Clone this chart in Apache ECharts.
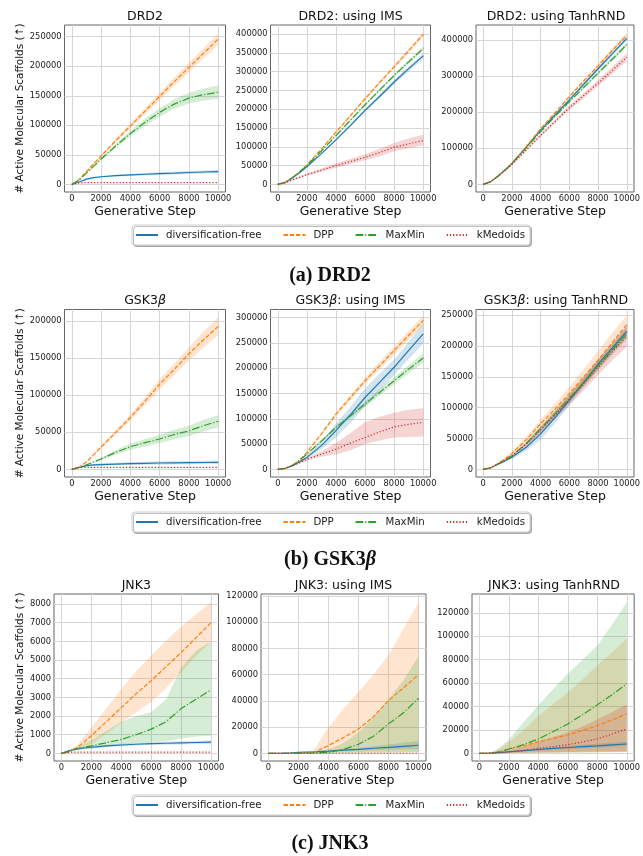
<!DOCTYPE html>
<html><head><meta charset="utf-8">
<script src="https://cdn.jsdelivr.net/npm/echarts@6/dist/echarts.min.js"></script>
<style>html,body{margin:0;padding:0;background:#fff}#c{width:643px;height:856px}</style>
</head><body><div id="c"></div>
<script>
// ---------- data ----------
const steps = [0,500,1000,1500,2000,3000,4000,5000,6000,7000,8000,9000,10000];
const xTicks = [0,2000,4000,6000,8000,10000];
const methods = ['diversification-free','DPP','MaxMin','kMedoids'];

// DRD2
const drd2Free   = [0,4000,9000,11500,13000,14800,16000,17200,18300,19200,20200,21000,21800];
const drd2FreeLo = [0,3500,8000,10300,11600,13200,14200,15200,16100,16900,17800,18500,19300];
const drd2FreeHi = [0,4500,10000,12700,14400,16400,17800,19200,20500,21500,22600,23500,24500];
const drd2Dpp    = [0,8000,22000,35000,48000,74000,99000,124000,149000,174000,198000,222000,246000];
const drd2DppLo  = [0,7600,21000,33500,46000,71000,95000,119000,143000,167000,190000,213000,237000];
const drd2DppHi  = [0,8400,23000,36500,50000,77000,103000,129000,155000,181000,206000,231000,255000];
const drd2Mm     = [0,7500,19000,31000,43000,65000,86000,105000,122000,136000,146000,152000,156000];
const drd2MmLo   = [0,7000,18000,29500,41000,61500,81500,99000,115000,128000,137000,142000,145000];
const drd2MmHi   = [0,8000,20000,32500,45000,68500,90500,111000,129000,144000,155000,162000,168000];
const drd2Km     = [0,2500,2900,3000,3000,3000,3000,3000,3000,3000,3000,3000,3000];
const drd2KmLo   = [0,2200,2600,2700,2700,2700,2700,2700,2700,2700,2700,2700,2700];
const drd2KmHi   = [0,2800,3200,3300,3300,3300,3300,3300,3300,3300,3300,3300,3300];
const drd2Ticks  = [0,50000,100000,150000,200000,250000];

// DRD2: using IMS
const drd2ImsFree   = [0,5000,17000,31000,47000,82000,118500,157000,197000,234000,272600,308000,342000];
const drd2ImsFreeLo = [0,4900,16600,30300,45900,80200,115900,153600,192800,229000,266800,301400,334700];
const drd2ImsFreeHi = [0,5100,17400,31700,48100,83800,121100,160400,201200,239000,278400,314600,349300];
const drd2ImsDpp    = [0,5500,18500,34000,52000,94000,139000,183000,228000,271000,313000,356000,399000];
const drd2ImsDppLo  = [0,5400,18200,33400,51100,92500,136800,180200,224600,267000,308400,350800,393200];
const drd2ImsDppHi  = [0,5600,18800,34600,52900,95500,141200,185800,231400,275000,317600,361200,404800];
const drd2ImsMm     = [0,5300,18000,33000,50000,89000,130000,171000,212000,251000,290000,326000,362000];
const drd2ImsMmLo   = [0,5200,17700,32400,49100,87500,127800,168200,208600,247000,285400,320800,356200];
const drd2ImsMmHi   = [0,5400,18300,33600,50900,90500,132200,173800,215400,255000,294600,331200,367800];
const drd2ImsKm     = [0,4000,12000,19000,26000,38000,50000,61000,72000,85000,99000,108000,117000];
const drd2ImsKmLo   = [0,3500,10500,16500,23000,33500,44000,54000,64000,75000,88000,96000,104000];
const drd2ImsKmHi   = [0,4500,13500,21500,29000,42500,56000,68000,80000,95000,110000,122000,132000];
const drd2ImsTicks  = [0,50000,100000,150000,200000,250000,300000,350000,400000];

// DRD2: using TanhRND
const drd2TanhFree   = [0,7000,22000,39000,58000,103000,150000,192000,234000,277000,320000,362000,404000];
const drd2TanhFreeLo = [0,6900,21700,38400,57100,101500,147800,189100,230500,272800,315200,356600,397900];
const drd2TanhFreeHi = [0,7100,22300,39600,58900,104500,152200,194900,237500,281200,324800,367400,410100];
const drd2TanhDpp    = [0,7000,22000,39000,58000,105000,154000,198000,243000,286000,328000,371000,413000];
const drd2TanhDppLo  = [0,6900,21700,38400,57100,103400,151700,195000,239400,281700,323100,365400,406800];
const drd2TanhDppHi  = [0,7100,22300,39600,58900,106600,156300,201000,246600,290300,332900,376600,419200];
const drd2TanhMm     = [0,7000,22000,39000,58000,101000,146000,188000,229000,268000,308000,347000,387000];
const drd2TanhMmLo   = [0,6900,21700,38400,57100,99500,143800,185200,225600,264000,303400,341800,381200];
const drd2TanhMmHi   = [0,7100,22300,39600,58900,102500,148200,190800,232400,272000,312600,352200,392800];
const drd2TanhKm     = [0,7000,21000,37000,55000,95000,136000,174000,212000,246000,280000,316000,352000];
const drd2TanhKmLo   = [0,6800,20400,35900,53300,92200,131900,168800,205600,238600,271600,306500,341400];
const drd2TanhKmHi   = [0,7200,21600,38100,56700,97800,140100,179200,218400,253400,288400,325500,362600];
const drd2TanhTicks  = [0,100000,200000,300000,400000];

// GSK3beta
const gskFree   = [0,2600,5000,6000,6500,7200,7800,8200,8600,8900,9100,9300,9500];
const gskFreeLo = [0,2300,4000,4600,4900,5400,5800,6100,6400,6600,6800,7000,7100];
const gskFreeHi = [0,2900,6000,7400,8100,9000,9800,10300,10800,11200,11400,11600,11900];
const gskDpp    = [0,3000,10000,20000,30000,50000,70000,92000,115000,135000,156000,175000,193000];
const gskDppLo  = [0,2800,9400,18800,28200,47000,65800,86500,108000,127000,147000,164000,181000];
const gskDppHi  = [0,3200,10600,21200,31800,53000,74200,97500,122000,143000,165000,186000,205000];
const gskMm     = [0,2700,6000,10000,14000,23000,30600,36000,41000,47000,52000,59000,65000];
const gskMmLo   = [0,2500,5500,9100,12600,20000,26500,31000,35500,40500,45000,51000,57000];
const gskMmHi   = [0,2900,6500,10900,15400,26000,34700,41000,46500,53500,59000,67000,73000];
const gskKm     = [0,2500,2800,2800,2800,2800,2800,2800,2800,2800,2800,2800,2800];
const gskKmLo   = [0,2300,2500,2500,2500,2500,2500,2500,2500,2500,2500,2500,2500];
const gskKmHi   = [0,2700,3100,3100,3100,3100,3100,3100,3100,3100,3100,3100,3100];
const gskTicks  = [0,50000,100000,150000,200000];

// GSK3beta: using IMS
const gskImsFree   = [0,2000,7000,15000,23700,47000,76500,108000,142000,172000,201700,235000,267600];
const gskImsFreeLo = [0,1900,6500,13500,21000,40000,63000,92000,124000,155000,186000,218000,248000];
const gskImsFreeHi = [0,2100,7500,16500,26500,54000,90000,124000,160000,189000,217000,252000,288000];
const gskImsDpp    = [0,2000,7500,18000,33600,70000,109000,142000,175000,205000,234700,265000,294000];
const gskImsDppLo  = [0,1900,7200,17400,32500,67500,105000,137000,169000,198000,227000,256000,284000];
const gskImsDppHi  = [0,2100,7800,18600,34700,72500,113000,147000,181000,212000,242500,274000,304000];
const gskImsMm     = [0,2000,8000,18000,30000,56000,83000,106000,129000,152000,175000,198000,220000];
const gskImsMmLo   = [0,1900,7600,17300,28800,53800,79700,101800,123800,146000,168000,190000,211000];
const gskImsMmHi   = [0,2100,8400,18700,31200,58200,86300,110200,134200,158000,182000,206000,229000];
const gskImsKm     = [0,2000,7000,13000,20000,30000,40000,52000,63000,74000,84000,89000,93000];
const gskImsKmLo   = [0,1800,6300,11500,17500,25000,30000,38000,50000,57000,63000,64000,65000];
const gskImsKmHi   = [0,2200,7700,14500,22500,36000,52000,72000,93000,104000,112000,118000,121000];
const gskImsTicks  = [0,50000,100000,150000,200000,250000,300000];

// GSK3beta: using TanhRND
const gskTanhFree   = [0,2300,8000,13500,19600,36000,57700,84000,112000,141000,170500,197000,223900];
const gskTanhFreeLo = [0,2100,7200,12000,17000,30000,48000,75000,104000,134000,163000,190000,215000];
const gskTanhFreeHi = [0,2500,8800,15000,22200,42000,67400,93000,120000,148000,178000,204000,233000];
const gskTanhDpp    = [0,2500,9000,17000,26000,48000,74000,98000,123000,150000,177500,206000,234800];
const gskTanhDppLo  = [0,2300,8300,15500,23500,43500,67000,89000,112000,137000,163000,190000,219000];
const gskTanhDppHi  = [0,2700,9700,18500,28500,52500,81000,107000,134000,163000,192000,222000,250000];
const gskTanhMm     = [0,2400,8500,15000,22000,42000,66000,90000,115000,141000,167800,194000,220000];
const gskTanhMmLo   = [0,2300,8100,14200,20800,39500,62000,85000,109000,134000,160000,186000,211000];
const gskTanhMmHi   = [0,2500,8900,15800,23200,44500,70000,95000,121000,148000,175600,202000,229000];
const gskTanhKm     = [0,2400,8500,15000,22000,41000,64000,88000,113000,139000,165600,191000,215700];
const gskTanhKmLo   = [0,2300,8000,14000,20500,38000,59000,81000,104000,128000,153000,177000,199000];
const gskTanhKmHi   = [0,2500,9000,16000,23500,44000,69000,95000,122000,150000,178000,205000,232000];
const gskTanhTicks  = [0,50000,100000,150000,200000,250000];

// JNK3
const jnkFree   = [0,150,230,290,330,400,450,490,520,545,565,585,600];
const jnkFreeLo = [0,130,200,250,280,340,380,420,445,465,480,500,510];
const jnkFreeHi = [0,170,260,330,380,460,520,560,600,625,650,670,690];
const jnkDpp    = [0,100,300,600,950,1700,2450,3200,3900,4650,5400,6200,7000];
const jnkDppLo  = [0,80,200,350,500,1050,1650,2200,2750,3500,4350,5200,6000];
const jnkDppHi  = [0,120,400,900,1400,2400,3450,4400,5250,6050,6800,7450,8100];
const jnkMm     = [0,100,250,330,400,570,750,1000,1300,1700,2400,2900,3400];
const jnkMmLo   = [0,80,180,230,250,350,450,550,600,650,800,900,950];
const jnkMmHi   = [0,120,330,500,700,1200,1700,2000,2200,2900,4600,5500,6000];
const jnkKm     = [0,60,70,70,70,70,70,70,70,70,70,70,70];
const jnkKmLo   = [0,55,62,62,62,62,62,62,62,62,62,62,62];
const jnkKmHi   = [0,65,78,78,78,78,78,78,78,78,78,78,78];
const jnkTicks  = [0,1000,2000,3000,4000,5000,6000,7000,8000];

// JNK3: using IMS
const jnkImsFree   = [0,100,200,400,700,1200,1800,2500,3100,3900,4600,5400,6200];
const jnkImsFreeLo = [0,80,150,300,500,800,1200,1600,2000,2400,2800,3000,3200];
const jnkImsFreeHi = [0,120,250,500,900,1600,2500,3400,4300,5500,6800,8200,9500];
const jnkImsDpp    = [0,20,60,120,200,600,6000,12000,18600,28000,40300,50000,60000];
const jnkImsDppLo  = [0,10,30,60,100,200,300,400,500,600,700,800,900];
const jnkImsDppHi  = [0,30,90,180,300,2000,20000,34000,47000,60000,75000,95000,115000];
const jnkImsMm     = [0,20,60,120,200,400,800,3000,7000,13000,22500,31000,42000];
const jnkImsMmLo   = [0,10,30,60,100,150,200,300,400,500,600,700,800];
const jnkImsMmHi   = [0,30,90,180,300,1000,3000,8000,16000,28000,41000,56000,74000];
const jnkImsKm     = [0,20,40,50,60,80,100,100,100,100,100,100,100];
const jnkImsKmLo   = [0,15,30,40,45,60,75,75,75,75,75,75,75];
const jnkImsKmHi   = [0,25,50,60,75,100,125,125,125,125,125,125,125];
const jnkImsTicks  = [0,20000,40000,60000,80000,100000,120000];

// JNK3: using TanhRND
const jnkTanhFree   = [0,100,500,900,1400,2400,3300,4200,5000,5700,6400,7200,8000];
const jnkTanhFreeLo = [0,50,300,600,1000,1800,2500,3200,3800,4400,5000,5700,6500];
const jnkTanhFreeHi = [0,150,700,1200,1800,3000,4200,5300,6300,7300,8200,9100,10000];
const jnkTanhDpp    = [0,100,500,1800,3700,6500,10000,12800,15700,19500,23700,28500,33700];
const jnkTanhDppLo  = [0,50,100,200,300,400,500,600,700,800,900,1000,1100];
const jnkTanhDppHi  = [0,150,1500,5000,9400,20000,32000,42000,52000,63000,75000,86000,98000];
const jnkTanhMm     = [0,100,500,1800,3700,7500,12300,18500,25000,33000,41400,50000,59400];
const jnkTanhMmLo   = [0,50,100,200,300,400,500,600,700,800,900,1000,1100];
const jnkTanhMmHi   = [0,200,2000,6000,12000,26500,41000,55000,68000,80000,92000,110000,129000];
const jnkTanhKm     = [0,50,300,600,1000,2500,4300,5800,7400,9800,12300,16500,20900];
const jnkTanhKmLo   = [0,30,100,200,300,500,700,900,1100,1300,1500,1700,1900];
const jnkTanhKmHi   = [0,100,800,1600,2500,6000,10000,14000,18000,23000,29000,35000,42000];
const jnkTanhTicks  = [0,20000,40000,60000,80000,100000,120000];

// ---------- styles / layout ----------
const colors = ['#1f77b4','#ff7f0e','#2ca02c','#d62728'];
const dashes = ['solid',[4.4,1.9],[7.7,1.9,1.2,1.9],[1.2,2]];
const FONT = 'DejaVu Sans';

const panels = [
  {title:'DRD2', box:[64.5,25,161,167], ymin:-12850, ymax:269850, ticks:drd2Ticks, ylab:true, gap:37,
   m:[[drd2Free,drd2FreeLo,drd2FreeHi],[drd2Dpp,drd2DppLo,drd2DppHi],[drd2Mm,drd2MmLo,drd2MmHi],[drd2Km,drd2KmLo,drd2KmHi]]},
  {title:'DRD2: using IMS', box:[270.5,25,160,167], ymin:-20200, ymax:424200, ticks:drd2ImsTicks,
   m:[[drd2ImsFree,drd2ImsFreeLo,drd2ImsFreeHi],[drd2ImsDpp,drd2ImsDppLo,drd2ImsDppHi],[drd2ImsMm,drd2ImsMmLo,drd2ImsMmHi],[drd2ImsKm,drd2ImsKmLo,drd2ImsKmHi]]},
  {title:'DRD2: using TanhRND', box:[476,25,160,167], ymin:-21000, ymax:441000, ticks:drd2TanhTicks,
   m:[[drd2TanhFree,drd2TanhFreeLo,drd2TanhFreeHi],[drd2TanhDpp,drd2TanhDppLo,drd2TanhDppHi],[drd2TanhMm,drd2TanhMmLo,drd2TanhMmHi],[drd2TanhKm,drd2TanhKmLo,drd2TanhKmHi]]},
  {title:'GSK3{i|β}', box:[64.5,309.5,161,167.5], ymin:-10300, ymax:215800, ticks:gskTicks, ylab:true, gap:37,
   m:[[gskFree,gskFreeLo,gskFreeHi],[gskDpp,gskDppLo,gskDppHi],[gskMm,gskMmLo,gskMmHi],[gskKm,gskKmLo,gskKmHi]]},
  {title:'GSK3{i|β}: using IMS', box:[270.5,309.5,160,167.5], ymin:-15000, ymax:315800, ticks:gskImsTicks,
   m:[[gskImsFree,gskImsFreeLo,gskImsFreeHi],[gskImsDpp,gskImsDppLo,gskImsDppHi],[gskImsMm,gskImsMmLo,gskImsMmHi],[gskImsKm,gskImsKmLo,gskImsKmHi]]},
  {title:'GSK3{i|β}: using TanhRND', box:[476,309.5,160,167.5], ymin:-12300, ymax:259300, ticks:gskTanhTicks,
   m:[[gskTanhFree,gskTanhFreeLo,gskTanhFreeHi],[gskTanhDpp,gskTanhDppLo,gskTanhDppHi],[gskTanhMm,gskTanhMmLo,gskTanhMmHi],[gskTanhKm,gskTanhKmLo,gskTanhKmHi]]},
  {title:'JNK3', box:[54,594,164.5,167], ymin:-406, ymax:8537, ticks:jnkTicks, ylab:true, gap:27,
   m:[[jnkFree,jnkFreeLo,jnkFreeHi],[jnkDpp,jnkDppLo,jnkDppHi],[jnkMm,jnkMmLo,jnkMmHi],[jnkKm,jnkKmLo,jnkKmHi]]},
  {title:'JNK3: using IMS', box:[261,594,165,167], ymin:-5800, ymax:121500, ticks:jnkImsTicks,
   m:[[jnkImsFree,jnkImsFreeLo,jnkImsFreeHi],[jnkImsDpp,jnkImsDppLo,jnkImsDppHi],[jnkImsMm,jnkImsMmLo,jnkImsMmHi],[jnkImsKm,jnkImsKmLo,jnkImsKmHi]]},
  {title:'JNK3: using TanhRND', box:[472,594,164,167], ymin:-6500, ymax:136000, ticks:jnkTanhTicks,
   m:[[jnkTanhFree,jnkTanhFreeLo,jnkTanhFreeHi],[jnkTanhDpp,jnkTanhDppLo,jnkTanhDppHi],[jnkTanhMm,jnkTanhMmLo,jnkTanhMmHi],[jnkTanhKm,jnkTanhKmLo,jnkTanhKmHi]]}
];
const titleCenters = [17.3, 301.8, 586.8];
const legendTops = [225, 512, 795];
const captions = [['(a) DRD2',277],['(b) GSK3{i|β}',561],['(c) JNK3',845]];

const grids=[], xAxes=[], yAxes=[], series=[], titles=[];
const fmt = v => String(Math.round(v));
panels.forEach((p,i)=>{
  const [l,t,w,h] = p.box;
  grids.push({left:l, top:t, width:w, height:h, show:true, borderColor:'#666', borderWidth:1, backgroundColor:'#fff'});
  xAxes.push({gridIndex:i, type:'value', min:-500, max:10500,
    axisLine:{show:false}, axisTick:{show:false, customValues:xTicks},
    axisLabel:{customValues:xTicks, formatter:fmt, fontSize:8.3, color:'#222', margin:3, fontFamily:FONT},
    splitLine:{show:true, lineStyle:{color:'#d6d6d6', width:1}},
    name:'Generative Step', nameLocation:'middle', nameGap:13,
    nameTextStyle:{fontSize:12.5, color:'#111', fontFamily:FONT}});
  yAxes.push({gridIndex:i, type:'value', min:p.ymin, max:p.ymax,
    axisLine:{show:false}, axisTick:{show:false, customValues:p.ticks},
    axisLabel:{customValues:p.ticks, formatter:fmt, fontSize:8.3, color:'#222', margin:3, fontFamily:FONT},
    splitLine:{show:true, lineStyle:{color:'#d6d6d6', width:1}},
    name: p.ylab ? '# Active Molecular Scaffolds (↑)' : '', nameLocation:'middle', nameGap:p.gap||30, nameRotate:90,
    nameTextStyle:{fontSize:10.5, color:'#111', fontFamily:FONT}});
  titles.push({text:p.title, left:l + w/2, top:titleCenters[Math.floor(i/3)] - 7.5, textAlign:'center', padding:0,
    textStyle:{fontSize:12.5, fontWeight:'normal', color:'#111', fontFamily:FONT,
      rich:{i:{fontStyle:'italic', fontSize:12.5, fontFamily:FONT, color:'#111'}}}});
  p.m.forEach((trip,j)=>{
    const [mean, lo, hi] = trip;
    series.push({type:'line', name:methods[j], xAxisIndex:i, yAxisIndex:i,
      data: steps.map((s,k)=>[s, mean[k]]), symbol:'none', showSymbol:false,
      lineStyle:{color:colors[j], width:1.2, type:dashes[j]}, itemStyle:{color:colors[j]}, animation:false});
    // confidence band: polygon through upper values then lower values, mapped by the axes
    series.push({type:'custom', name:'band'+j, xAxisIndex:i, yAxisIndex:i, silent:true, animation:false,
      data:[[0,0]], clip:true,
      renderItem:(params, api)=>{
        const up = steps.map((s,k)=>api.coord([s, hi[k]]));
        const dn = steps.map((s,k)=>api.coord([s, lo[k]])).reverse();
        return {type:'polygon', shape:{points: up.concat(dn)},
                style:{fill:colors[j], opacity:0.2, stroke:null}};
      }});
  });
});
captions.forEach(c=>{
  titles.push({text:c[0], left:330, top:c[1]-11, textAlign:'center', padding:0,
    textStyle:{fontSize:20, fontWeight:'bold', color:'#111', fontFamily:'Liberation Serif',
      rich:{i:{fontStyle:'italic', fontWeight:'bold', fontSize:20, fontFamily:'Liberation Serif', color:'#111'}}}});
});
const legends = legendTops.map(top=>({data:methods, left:132, top:top, orient:'horizontal',
  itemWidth:22, itemHeight:9, itemGap:21, padding:[5,5,5,3], backgroundColor:'#fff',
  borderColor:'#cccccc', borderWidth:1, borderRadius:3,
  shadowColor:'rgba(0,0,0,0.25)', shadowOffsetX:1.5, shadowOffsetY:1.5, shadowBlur:0,
  itemStyle:{opacity:0}, selectedMode:false,
  textStyle:{fontSize:10.2, fontFamily:FONT, color:'#222', padding:[0,0,0,3]}}));

const chart = echarts.init(document.getElementById('c'), null, {renderer:'canvas', width:643, height:856});
chart.setOption({animation:false, backgroundColor:'#fff', title:titles, legend:legends,
  grid:grids, xAxis:xAxes, yAxis:yAxes, series:series});
</script></body></html>
